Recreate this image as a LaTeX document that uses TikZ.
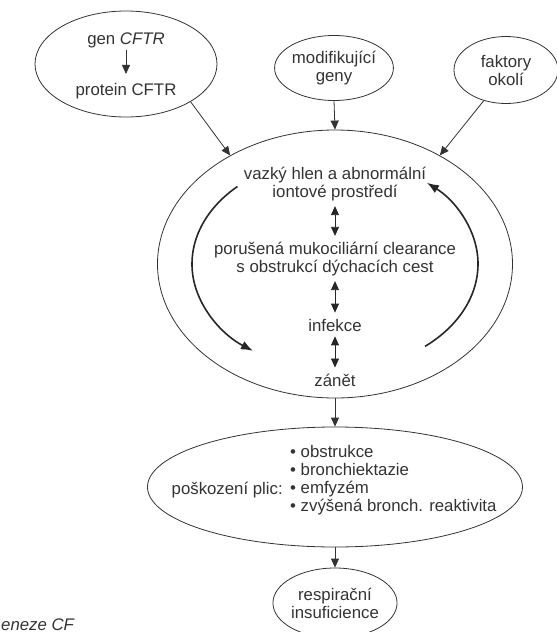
\documentclass[tikz,border=0pt]{standalone}
\usepackage{fontspec}
\setmainfont{Liberation Sans}
\usetikzlibrary{arrows.meta,positioning,shapes.geometric}

\begin{document}
\begin{tikzpicture}[x=1pt,y=-1pt,>={Triangle[length=9pt,width=8pt]},
		font=\fontsize{16.8}{18}\selectfont,
		main node/.style={ellipse,draw=black!80,line width=0.8pt,inner sep=0pt,text=black!80,align=center},
		text node/.style={inner sep=0pt,text=black!80,align=center},
		flow arrow/.style={->,draw=black!80,line width=0.8pt},
		double arrow/.style={<->,draw=black!85,line width=0.8pt,shorten <=5pt,shorten >=6pt},
		cycle arrow/.style={->,>={Latex[length=12pt,width=9pt]},draw=black!85,line width=1.6pt}]
		
		\useasboundingbox (0,0) rectangle (557,632);
		
		% vstupy
		\node[main node,minimum width=182,minimum height=106] (cftr) at (126,64) {};
		\node[text node] (gen) at (126,40) {gen \textit{CFTR}};
		\node[text node] (protein) at (126,91) {protein CFTR};
		\node[main node,minimum width=113,minimum height=65] (modif) at (334,68) {modifikující\\geny};
		\node[main node,minimum width=104,minimum height=67] (okoli) at (506,70) {faktory\\okolí};
		
		% bludny kruh
		\node[main node,minimum width=355,minimum height=268] (cycle) at (335,264) {};
		\node[text node] (hlen) at (335,184) {vazký hlen a abnormální\\iontové prostředí};
		\node[text node] (clearance) at (335,259) {porušená mukociliární clearance\\s obstrukcí dýchacích cest};
		\node[text node] (infekce) at (335,325) {infekce};
		\node[text node] (zanet) at (335,380) {zánět};
		
		% nasledky
		\node[main node,minimum width=375,minimum height=120] (plic) at (335,487) {};
		\node[text node,anchor=east] (poskozeni) at (283,490) {poškození plic:};
		\node[text node,anchor=west,align=left] (projevy) at (290,480) {• obstrukce\\• bronchiektazie\\• emfyzém\\• zvýšená bronch. reaktivita};
		\node[main node,minimum width=104,minimum height=70] (resp) at (335,603) {respirační\\insuficience};
		\node[text node,anchor=base west,font=\fontsize{16.8}{18}\selectfont\itshape] (caption) at (1,630) {eneze CF};
		
		\draw[flow arrow,shorten <=2pt,shorten >=9pt] (gen) -- (protein);
		\draw[flow arrow] (cftr.south east) -- (cycle.134);
		\draw[flow arrow] (modif.south) -- (cycle.north);
		\draw[flow arrow] (okoli.234) -- (cycle.46);
		
		\draw[double arrow] (hlen) -- (clearance);
		\draw[double arrow] (clearance) -- (infekce);
		\draw[double arrow] (infekce) -- (zanet);
		\draw[cycle arrow] (cycle.center) ++(227:143 and 106) arc[start angle=227,end angle=125,x radius=143,y radius=106];
		\draw[cycle arrow] (cycle.center) ++(51:143 and 106) arc[start angle=51,end angle=-50,x radius=143,y radius=106];
		
		\draw[flow arrow] (cycle.south) -- (plic.north);
		\draw[flow arrow] (plic.south) -- (resp.north);
\end{tikzpicture}
\end{document}
